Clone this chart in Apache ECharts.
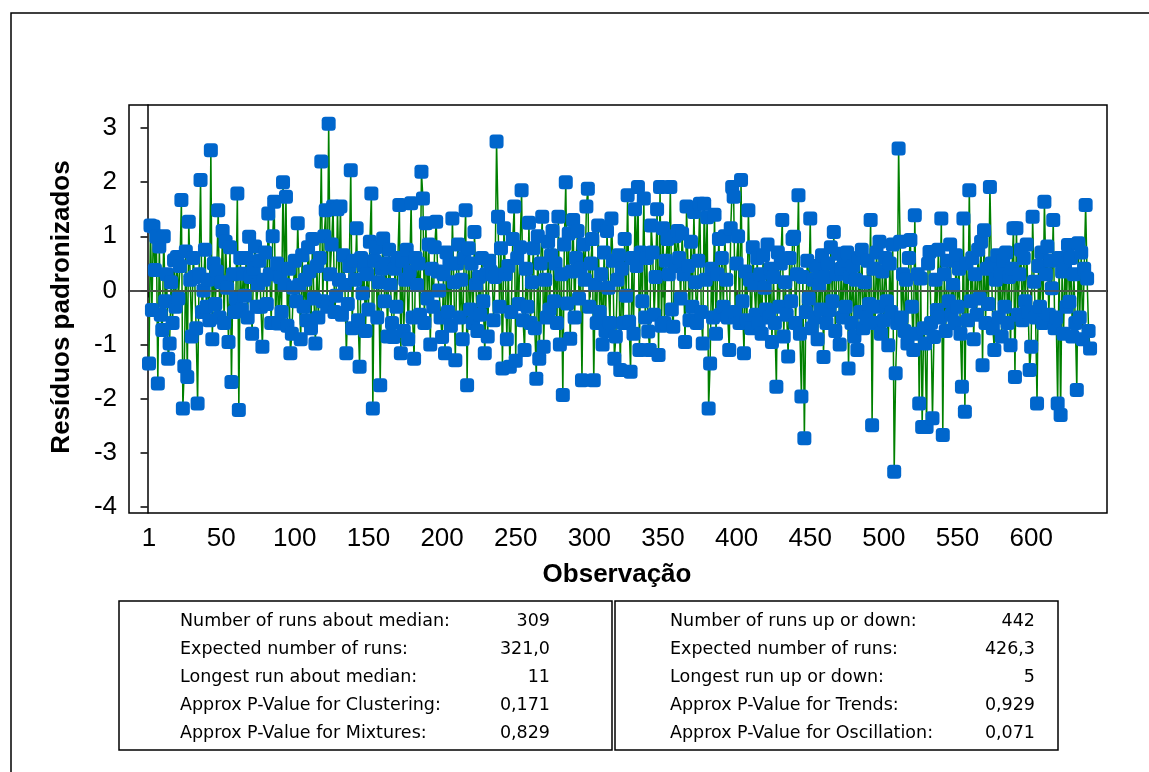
<!DOCTYPE html>
<html><head><meta charset="utf-8">
<script src="https://cdn.jsdelivr.net/npm/echarts@6/dist/echarts.min.js"></script>
<style>html,body{margin:0;padding:0;background:#fff}#c{width:1149px;height:772px}</style>
</head><body><div id="c"></div>
<script>
const xTickValues = [1, 50, 100, 150, 200, 250, 300, 350, 400, 450, 500, 550, 600];
const yTickValues = [-4, -3, -2, -1, 0, 1, 2, 3];
const xTitle = 'Observação';
const yTitle = 'Resíduos padronizados';

const res001_080 = [
  -1.35, 1.2, -0.36, 1.18, 0.38, 0.99, -1.72, 0.81, -0.45, -0.73, 1.0, -0.2, 0.3, -1.26, -0.98, 0.15, -0.6, 0.56, -0.3, 0.62,
  -0.15, 0.45, 1.67, -2.18, -1.4, 0.72, -1.6, 1.27, 0.2, -0.85, 0.6, 0.25, -0.7, -2.09, 0.3, 2.04, -0.4, 0.0, 0.75, -0.3,
  0.2, -0.55, 2.59, -0.9, 0.5, -0.25, 0.35, 1.48, -0.5, 0.15, 1.1, -0.6, 0.9, 0.05, -0.95, 0.8, -1.69, 0.3, -0.4, -0.15,
  1.79, -2.21, 0.6, -0.35, 0.31, -0.1, 0.6, -0.5, 0.99, 0.25, -0.8, 0.4, 0.81, -0.3, 0.1, 0.55, -0.3, -1.04, 0.2, 0.7
];
const res081_160 = [
  -0.25, 1.42, 0.3, -0.6, 1.0, 1.64, -0.6, 0.5, -0.61, 0.25, -0.4, 2.0, 0.1, 1.73, -0.65, 0.4, -1.16, -0.8, 0.05, 0.55,
  -0.2, 1.24, 0.1, -0.9, 0.65, -0.3, 0.2, -0.55, 0.8, 0.35, -0.7, 0.95, -0.15, -0.98, 0.45, -0.5, 0.6, 2.38, -0.2, 1.0,
  1.48, -0.3, 3.08, 0.3, 0.85, 1.55, -0.4, -0.1, 1.5, 0.2, 1.55, -0.45, 0.65, 0.1, -1.16, -0.25, 0.45, 2.22, -0.7, 0.55,
  0.2, 1.15, -0.55, -1.41, 0.6, -0.05, 0.45, -0.75, 0.3, -0.35, 0.9, 1.79, -2.18, 0.55, 0.8, -0.5, 0.15, -1.75, 0.4, 0.96
];
const res161_240 = [
  -0.2, 0.5, -0.85, 0.75, 0.1, -0.6, -0.86, 0.4, -0.3, 0.6, 1.58, -1.16, 0.55, -0.75, 0.2, 0.75, -0.9, 0.35, 1.61, -0.5,
  -1.26, 0.6, 0.1, 0.5, -0.45, 2.19, 1.7, -0.6, 1.24, -0.15, 0.85, -1.0, 0.4, -0.3, 0.8, 1.27, 0.35, 0.0, -0.5, -0.86,
  0.3, -1.16, 0.7, -0.4, 0.5, -0.65, 1.33, 0.15, -1.29, 0.5, 0.85, -0.5, 0.2, -0.9, 0.6, 1.48, -1.75, 0.78, -0.35, 0.5,
  -0.6, 1.08, 0.1, -0.75, 0.25, -0.45, 0.6, -0.2, -1.16, 0.3, -0.85, 0.55, 0.35, 0.31, -0.55, 0.25, 2.75, 1.36, -0.3, 0.78
];
const res241_320 = [
  -1.44, 1.15, 0.3, -0.9, 0.45, -1.41, -0.4, 0.95, 1.55, -1.3, 0.6, -0.25, 0.8, 1.85, -0.55, -1.1, 0.4, -0.3, 1.25, -0.6,
  0.15, 0.78, -0.7, -1.63, 1.0, -1.26, 0.5, 1.36, -1.04, 0.2, -0.5, 0.9, -0.35, 0.65, 1.1, -0.2, 0.5, -0.6, 1.36, -1.0,
  0.3, -1.93, 0.85, 2.0, -0.24, 1.05, -0.89, 0.35, 1.3, -0.5, 0.6, 1.1, -0.15, 0.4, -1.66, 0.85, 0.2, 1.55, 1.88, -0.3,
  0.5, 0.95, -1.66, 0.1, -0.6, 1.2, -0.4, 0.3, -1.0, 0.7, -0.75, 1.1, 0.05, -0.6, 1.33, 0.55, -1.26, -0.85, 0.2, 0.65
];
const res321_400 = [
  -1.47, 0.4, -0.6, 0.95, -0.1, 1.76, -0.58, -1.5, 0.6, -0.8, 1.5, 0.45, 1.91, -1.1, 0.7, -0.2, 1.7, -0.5, 0.6, -0.76,
  -1.1, 1.2, 0.7, -0.45, 0.25, 1.5, -1.19, 1.91, -0.65, 1.15, -0.6, 0.55, 0.95, 0.3, 1.91, -0.35, -0.67, 1.0, 0.45, 1.1,
  0.6, -0.15, 1.05, 0.3, -0.95, 1.55, 0.45, -0.55, 0.9, -0.3, 1.45, 0.15, -0.6, 0.55, 1.6, -0.4, -0.98, 1.6, 0.2, 1.35,
  -2.18, -1.35, 0.4, -0.5, 1.4, -0.8, 0.3, 0.95, -0.45, 0.6, -0.3, 1.0, 0.2, -0.5, -1.1, 1.15, 1.91, 1.73, -0.4, 0.5
];
const res401_480 = [
  1.0, -0.6, 2.04, -0.2, -1.16, 0.35, -0.55, 1.48, 0.2, -0.7, 0.8, 0.1, -0.45, 0.6, -0.6, 0.3, -0.8, 0.65, 0.05, -0.35,
  0.85, -0.5, 0.4, -0.95, 0.25, -0.6, -1.78, 0.7, -0.3, 0.5, 1.3, -0.85, 0.15, -0.45, -1.22, 0.6, -0.2, 0.95, 0.99, -0.6,
  0.3, 1.76, -0.8, -1.96, 0.25, -2.73, -0.4, 0.55, -0.15, 1.33, -0.7, 0.2, -0.5, 0.45, -0.9, 0.1, -0.35, 0.65, -1.23, 0.25,
  -0.6, 0.5, -0.36, 0.8, -0.2, 1.08, -0.75, 0.3, 0.68, -1.0, 0.4, -0.5, 0.55, -0.3, 0.7, -1.44, 0.25, -0.6, 0.45, -0.85
];
const res481_560 = [
  0.2, -1.1, 0.6, -0.4, 0.75, -0.7, 0.15, -0.5, 0.55, -0.25, 1.3, -2.49, 0.4, -0.6, 0.7, -0.3, 0.9, -0.8, 0.35, -0.55,
  0.6, -0.2, -1.01, 0.5, -0.4, 0.85, -3.35, -1.53, -0.6, 2.62, 0.9, -0.5, 0.3, -0.75, 0.2, -0.98, 0.6, 0.93, -0.3, -1.1,
  1.39, -0.8, 0.3, -2.09, 0.22, -2.52, -0.7, -0.98, -2.52, 0.5, 0.71, -0.6, -2.36, -0.86, 0.2, -0.36, 0.75, -0.5, 1.33, -2.67,
  0.3, -0.75, 0.55, -0.2, 0.85, -0.45, 0.1, -0.6, 0.65, -0.3, 0.4, -0.8, -1.78, 1.33, -2.24, 0.5, -0.55, 1.85, -0.2, 0.6
];
const res561_640 = [
  -0.9, 0.3, -0.45, 0.75, -0.15, 0.9, -1.38, 1.11, -0.6, 0.4, -0.25, 1.91, 0.5, -0.7, -1.1, 0.2, 0.65, -0.5, 0.35, -0.85,
  0.55, -0.3, 0.7, -0.6, 0.25, -1.01, 0.4, 1.15, -1.6, 1.15, -0.45, 0.3, 0.75, -0.55, 0.6, -0.2, 0.85, -0.4, -1.47, -1.04,
  1.36, 0.16, -0.5, -2.09, 0.45, -0.3, 0.7, -0.6, 1.64, 0.3, 0.81, -0.45, 0.55, 0.04, 1.3, -0.7, -0.5, -2.09, 0.6, -2.3,
  0.35, -0.8, 0.5, -0.3, 0.84, -0.21, 0.6, -0.85, 0.3, -0.6, -1.84, 0.87, -0.5, 0.7, -0.9, 0.4, 1.58, 0.22, -0.75, -1.07
];

const leftLabels = ['Number of runs about median:', 'Expected number of runs:', 'Longest run about median:', 'Approx P-Value for Clustering:', 'Approx P-Value for Mixtures:'];
const leftValues = ['309', '321,0', '11', '0,171', '0,829'];
const rightLabels = ['Number of runs up or down:', 'Expected number of runs:', 'Longest run up or down:', 'Approx P-Value for Trends:', 'Approx P-Value for Oscillation:'];
const rightValues = ['442', '426,3', '5', '0,929', '0,071'];

const residuals = [].concat(res001_080, res081_160, res161_240, res241_320, res321_400, res401_480, res481_560, res561_640);
const seriesData = residuals.map((v, i) => [i + 1, v]);

const boxFont = '17.5px "DejaVu Sans", sans-serif';
const graphics = [
  { type: 'rect', shape: { x: 11, y: 13, width: 1300, height: 900 }, style: { fill: 'none', stroke: '#000', lineWidth: 1.5 }, silent: true },
  { type: 'rect', shape: { x: 119, y: 601, width: 493, height: 149 }, style: { fill: 'none', stroke: '#000', lineWidth: 1.5 }, silent: true },
  { type: 'rect', shape: { x: 615, y: 601, width: 443, height: 149 }, style: { fill: 'none', stroke: '#000', lineWidth: 1.5 }, silent: true },
  { type: 'text', x: 617, y: 575, style: { text: xTitle, font: 'bold 26px "Liberation Sans", sans-serif', fill: '#000', textAlign: 'center', textVerticalAlign: 'middle' } },
  { type: 'text', x: 62, y: 307, rotation: Math.PI / 2, style: { text: yTitle, font: 'bold 26px "Liberation Sans", sans-serif', fill: '#000', textAlign: 'center', textVerticalAlign: 'middle' } }
];
const rowY = [621, 649, 677, 705, 733];
leftLabels.forEach((t, i) => {
  graphics.push({ type: 'text', x: 180, y: rowY[i], style: { text: t, font: boxFont, fill: '#000', textAlign: 'left', textVerticalAlign: 'middle' } });
  graphics.push({ type: 'text', x: 550, y: rowY[i], style: { text: leftValues[i], font: boxFont, fill: '#000', textAlign: 'right', textVerticalAlign: 'middle' } });
});
rightLabels.forEach((t, i) => {
  graphics.push({ type: 'text', x: 670, y: rowY[i], style: { text: t, font: boxFont, fill: '#000', textAlign: 'left', textVerticalAlign: 'middle' } });
  graphics.push({ type: 'text', x: 1035, y: rowY[i], style: { text: rightValues[i], font: boxFont, fill: '#000', textAlign: 'right', textVerticalAlign: 'middle' } });
});

const chart = echarts.init(document.getElementById('c'), null, { renderer: 'canvas' });
chart.setOption({
  animation: false,
  backgroundColor: '#fff',
  grid: { left: 129, top: 105, width: 978, height: 408, show: true, borderColor: '#000', borderWidth: 1.5, backgroundColor: 'transparent' },
  xAxis: {
    type: 'value', min: -12.58, max: 651.5,
    axisLine: { show: true, lineStyle: { color: '#000', width: 1.5 } },
    axisTick: { show: true, customValues: xTickValues, length: 7, lineStyle: { color: '#000', width: 1.5 } },
    axisLabel: { customValues: xTickValues, color: '#000', fontSize: 26, fontFamily: '"Liberation Sans", sans-serif', margin: 13 },
    splitLine: { show: false }
  },
  yAxis: {
    type: 'value', min: -4.11, max: 3.425,
    axisLine: { show: true, lineStyle: { color: '#000', width: 1.5 } },
    axisTick: { show: true, customValues: yTickValues, length: 7, lineStyle: { color: '#000', width: 1.5 } },
    axisLabel: { customValues: yTickValues, color: '#000', fontSize: 26, fontFamily: '"Liberation Sans", sans-serif', margin: 12 },
    splitLine: { show: false }
  },
  graphic: graphics,
  series: [{
    type: 'line',
    data: seriesData,
    symbol: 'roundRect',
    symbolSize: 14,
    showAllSymbol: true,
    lineStyle: { color: '#008000', width: 1.5 },
    itemStyle: { color: '#0066CC' },
    markLine: {
      silent: true, symbol: ['none', 'none'], label: { show: false },
      lineStyle: { color: '#555', type: 'solid', width: 1.5 },
      data: [{ yAxis: 0 }]
    }
  }]
});
</script></body></html>
